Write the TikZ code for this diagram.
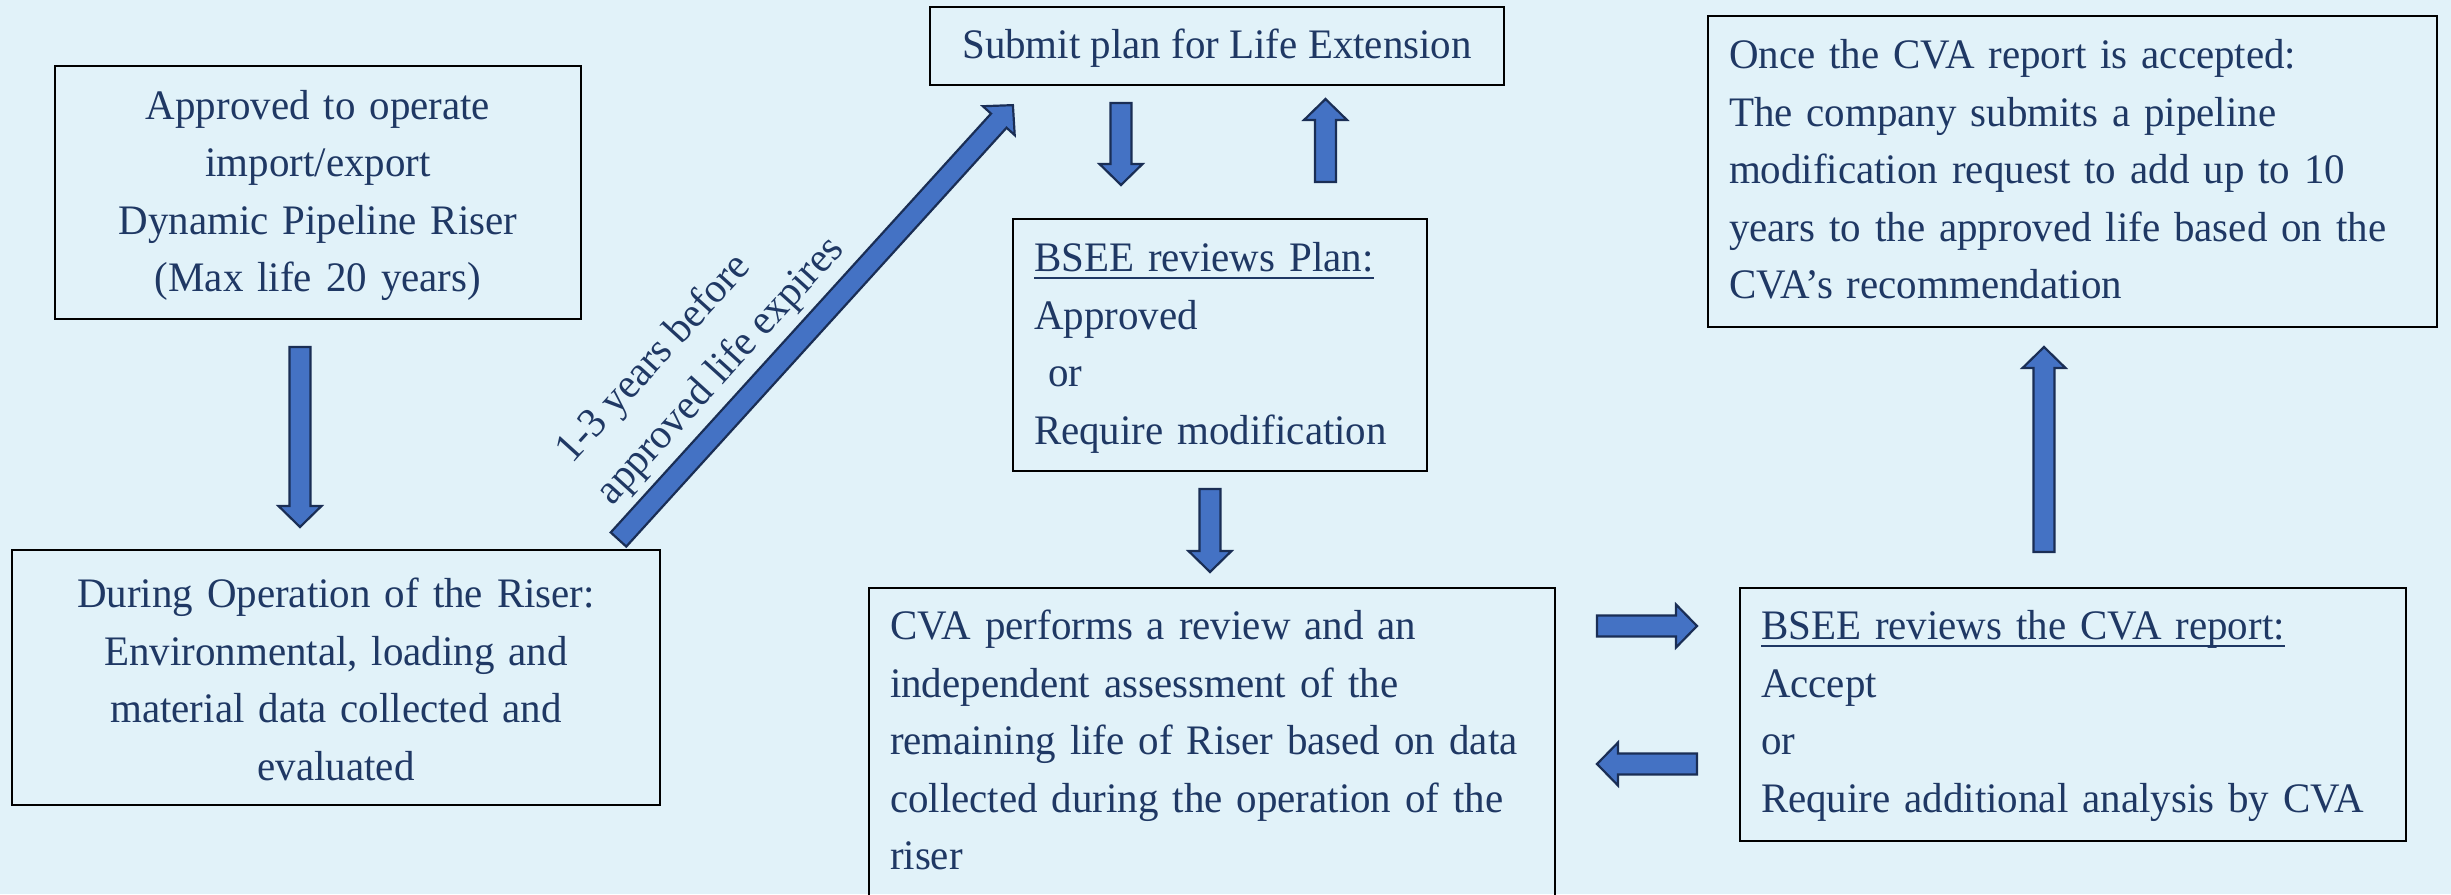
\documentclass[tikz,border=0pt]{standalone}
\usepackage{fontspec}
\setmainfont[FakeStretch=0.975]{Liberation Serif}
\usetikzlibrary{calc}

\definecolor{bgblue}{HTML}{E1F2F9}
\definecolor{txtnavy}{HTML}{1F3864}
\definecolor{arrowfill}{HTML}{4472C4}
\definecolor{arrowline}{HTML}{1A2E55}

% underline set just below the baseline, crossing descenders
\newcommand\myul[1]{\setbox0\hbox{#1}\rlap{\rule[-7pt]{\wd0}{2pt}}\box0}
% invisible struts that fix the height of a first line / depth of a last line
\newcommand\tophgt[1]{\rule{0pt}{#1}}
\newcommand\botdep[1]{\rule[-#1]{0pt}{#1}}

% wide outlined block arrow from coordinate #1 (tail) to coordinate #2 (tip)
\newcommand\blockarrow[2]{%
  \path let \p1=(#1), \p2=(#2),
    \n1={atan2(\y2-\y1,\x2-\x1)}, \n2={veclen(\x2-\x1,\y2-\y1)} in
    \pgfextra{\xdef\baang{\n1}\xdef\balen{\n2}\xdef\bax{\x1}\xdef\bay{\y1}};
  \draw[barrow, shift={(\bax,\bay)}, rotate=\baang]
    (0,-10.5) -- (\balen-21,-10.5) -- (\balen-21,-21.5) -- (\balen,0)
    -- (\balen-21,21.5) -- (\balen-21,10.5) -- (0,10.5) -- cycle;}

\begin{document}
\begin{tikzpicture}[x=1pt,y=1pt,
  txt/.style={text=txtnavy, font=\fontsize{42}{57.5}\selectfont},
  box/.style={txt, draw=black, line width=2pt, inner sep=0pt},
  barrow/.style={fill=arrowfill, draw=arrowline, line width=2.2pt, line join=miter}]

\useasboundingbox (0,0) rectangle (2451,-894);
\clip (0,0) rectangle (2451,-894);
\fill[bgblue] (0,0) rectangle (2451,-894);

% process boxes
\node[box, minimum width=526, minimum height=253, text width=484, align=center]
  (approved) at (318,-192.5)
  {\tophgt{35pt}Approved to operate\\import/export\\Dynamic Pipeline Riser\\(Max life 20 years)};

\node[box, minimum width=648, minimum height=255, text width=606, align=center]
  (operation) at (336,-677.5)
  {\tophgt{33pt}During Operation of the Riser:\\Environmental, loading and\\material data collected and\\evaluated};

\node[box, minimum width=574, minimum height=78, align=center]
  (submit) at (1217,-45.5)
  {\tophgt{35pt}Submit plan for Life Extension};

\node[box, minimum width=414, minimum height=252, text width=372, align=left]
  (plan) at (1220,-345)
  {\tophgt{35pt}\myul{BSEE reviews Plan:}\\Approved\\\ or\\Require modification};

\node[box, minimum width=686, minimum height=316, text width=644, align=left]
  (cva) at (1212,-746)
  {CVA performs a review and an\\independent assessment of the\\remaining life of Riser based on data\\collected during the operation of the\\riser\botdep{12pt}};

\node[box, minimum width=666, minimum height=253, text width=624, align=left]
  (report) at (2073,-714.5)
  {\tophgt{32pt}\myul{BSEE reviews the CVA report:}\\Accept\\or\\Require additional analysis by CVA};

\node[box, minimum width=729, minimum height=311, text width=687, align=left]
  (accepted) at (2072.5,-171.5)
  {Once the CVA report is accepted:\\The company submits a pipeline\\modification request to add up to 10\\years to the approved life based on the\\CVA’s recommendation\botdep{5pt}};

% label along the diagonal arrow
\node[txt, rotate=47.8, align=center, inner sep=0pt] (timing) at (700,-352)
  {1-3 years before\hspace*{72pt}\\approved life expires};

% arrow end points
\coordinate (ab1) at (300,-347);    \coordinate (ab2) at (300,-527);
\coordinate (os1) at (618.5,-539.5);\coordinate (os2) at (1013,-105);
\coordinate (sp1) at (1121,-103);   \coordinate (sp2) at (1121,-185);
\coordinate (ps1) at (1325.5,-182); \coordinate (ps2) at (1325.5,-99);
\coordinate (pc1) at (1210,-489);   \coordinate (pc2) at (1210,-572);
\coordinate (cr1) at (1597,-626);   \coordinate (cr2) at (1697,-626);
\coordinate (rc1) at (1697,-764);   \coordinate (rc2) at (1597,-764);
\coordinate (ra1) at (2044,-552);   \coordinate (ra2) at (2044,-347);

\blockarrow{ab1}{ab2}
\blockarrow{os1}{os2}
\blockarrow{sp1}{sp2}
\blockarrow{ps1}{ps2}
\blockarrow{pc1}{pc2}
\blockarrow{cr1}{cr2}
\blockarrow{rc1}{rc2}
\blockarrow{ra1}{ra2}
\end{tikzpicture}
\end{document}
